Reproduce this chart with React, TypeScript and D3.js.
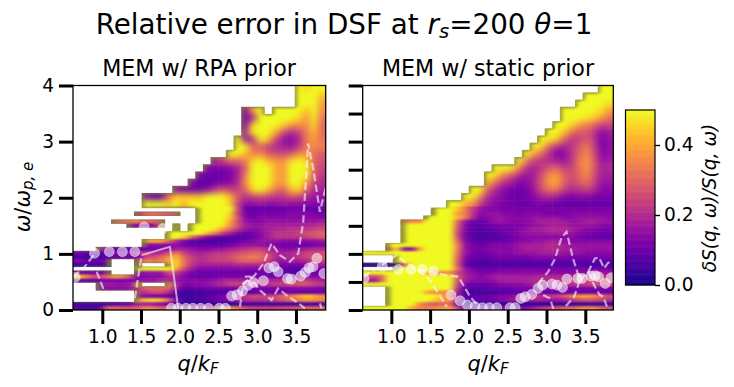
// App.tsx > relative error heatmaps (two panels + colorbar)
import React, {useEffect, useRef} from 'react';
import * as d3 from 'd3';

const _ = NaN;
const colCt = 33;
// rows run top to bottom, omega edges of each row
const omegaEdges = [
    4, 3.872, 3.744, 3.616, 3.488, 3.36, 3.232, 3.104, 2.976, 2.848, 2.72, 2.592, 2.464, 2.336, 2.208, 2.08, 1.952,
    1.82, 1.75, 1.68, 1.61, 1.54, 1.47, 1.4, 1.33, 1.26, 1.19, 1.12, 1.05, 0.98, 0.91, 0.84, 0.77, 0.7, 0.63, 0.56, 0.49, 0.42, 0.35, 0.28, 0.21, 0.14, 0.07, 0,
];
// relative error in percent, rows are right aligned (missing cells on the left are empty)
const rpaErr = [
    [50,46,50,50],
    [50,50,50,42],
    [50,50,50,38],
    [15,40,50,_,50,50,50,50,42,50,36],
    [12,18,50,50,50,50,50,46,38,48,32],
    [14,45,50,50,50,45,38,36,36,46,30],
    [20,50,50,50,40,26,20,24,34,42,30],
    [50,16,20,50,42,25,16,14,20,34,38,32],
    [50,50,30,28,24,20,18,16,22,34,36,34],
    [50,50,42,34,36,28,26,26,28,36,36,32,28],
    [20,25,30,30,34,46,50,42,38,36,46,50,46,30,26],
    [15,12,12,14,18,28,50,50,50,40,38,50,50,50,30,24],
    [14,10,10,10,12,18,34,50,50,50,40,38,50,50,48,28,22],
    [16,9,9,10,12,14,20,36,50,50,50,40,38,50,50,40,24,20],
    [14,10,10,10,14,22,28,24,24,30,46,50,42,32,30,42,46,30,20,18],
    [15,8,10,30,45,45,45,42,50,50,50,42,28,22,24,26,24,22,22,26,26,20,16,16],
    [50,50,50,45,50,40,50,50,50,50,50,46,24,14,14,16,14,14,16,14,14,14,12,14],
    [50,50,50,50,50,26,10,9,10,10,10,11,12,12,10,10,10],
    [20,30,32,30,28,26,_,_,50,50,50,50,46,24,12,10,12,12,12,12,14,14,14,12,12],
    [50,50,50,50,44,28,14,12,14,14,14,14,14,14,14,14,14],
    [30,30,35,35,30,30,28,_,_,_,_,50,50,50,50,40,26,16,14,14,16,16,16,16,16,16,16,18],
    [15,12,12,14,30,_,50,_,50,50,50,50,48,38,26,18,16,16,18,18,18,18,18,20,20,22],
    [50,_,50,50,50,48,38,30,22,16,14,16,18,20,20,22,22,22,24,26],
    [50,50,50,50,50,42,34,24,18,12,10,12,14,18,22,22,22,24,26,28,30],
    [50,50,44,30,20,14,10,8,8,8,8,10,14,18,22,22,22,22,24,26,28],
    [40,40,40,30,20,12,8,7,6,6,7,8,10,12,14,16,16,16,14,14,14,14,15,16],
    [12,14,14,14,15,12,10,10,10,10,10,12,14,16,16,16,14,12,10,10,10,10,12,12],
    [20,12,8,7,8,10,10,12,14,14,18,18,16,14,14,16,16,18,20,22,24,24,20,16,14,14,16,18,20,20],
    [12,10,8,8,10,14,14,14,20,25,18,20,26,34,24,20,18,20,22,22,24,26,28,30,30,24,20,18,20,22,24,26,26],
    [6,5,5,6,8,10,10,10,12,24,26,30,36,42,30,24,20,22,24,24,26,30,32,34,32,26,20,18,20,22,24,28,28],
    [14,12,10,12,10,_,_,_,24,36,32,34,40,46,32,24,20,22,24,24,24,28,30,30,28,24,18,16,18,18,20,24,24],
    [5,5,6,6,6,_,_,_,30,_,_,_,40,46,32,22,18,18,18,18,18,20,20,20,20,18,14,12,12,12,14,16,18],
    [50,50,50,50,50,40,26,18,14,14,14,14,14,14,14,14,14,12,10,9,8,8,10,12,12],
    [14,10,10,10,14,_,_,_,12,16,16,16,26,24,16,12,10,10,10,10,10,10,10,10,10,9,8,8,8,8,8,10,10],
    [50,40,30,26,34,40,36,28,12,14,14,14,20,18,14,10,10,10,10,12,12,12,12,12,12,12,12,12,12,14,14,14,14],
    [10,10,8,12,12,12,12,12,14,16,16,20,20,16,14,14,14,14,16,18,20,20,18,18,18,18,20,20,22,24,24,20,18],
    [14,18,16,16,16,40,_,_,_,38,20,12,14,14,16,18,20,24,24,22,20,20,22,24,24,26,28,28,24,22],
    [12,14,14,14,16,22,30,30,30,30,16,8,9,10,12,12,12,12,12,12,12,12,12,12,12,14,14,14,14,12],
    [20,22,26,26,20,8,5,5,5,6,6,6,8,8,8,8,10,10,10,10,10,10,10,10,10],
    [16,14,12,12,10,6,5,5,6,8,10,12,14,18,22,26,26,24,26,32,34,40,44,40,36],
    [40,44,48,44,32,14,6,5,6,8,10,12,14,18,20,22,20,22,24,28,30,34,38,36,34],
    [5,5,5,4,6,8,8,10,18,18,16,14,10,6,4,4,4,4,4,4,4,4,5,5,5,5,5,5,5,5,5,5,5],
    [8,8,8,8,30,30,28,28,30,36,34,30,28,24,20,20,22,22,24,34,36,34,26,24,24,24,24,26,26,28,30,30,30],
];
const staticErr = [
    [50,50],
    [50,50,50,50],
    [50,50,50,50,46],
    [50,50,50,50,50,46,38],
    [50,50,50,48,44,38,32],
    [50,50,46,38,34,30,24,24],
    [50,50,44,32,28,28,22,14,18],
    [50,48,44,30,22,24,28,22,12,16],
    [50,46,30,22,18,22,28,34,24,12,16],
    [50,40,30,22,12,14,22,30,36,26,14,16],
    [50,34,24,22,20,18,16,22,32,38,28,16,18],
    [50,50,50,36,22,18,22,28,30,24,24,32,38,28,18,20],
    [50,46,34,28,20,16,18,26,36,38,30,26,30,36,26,18,18],
    [42,30,22,18,14,14,18,28,38,40,30,24,28,32,24,16,16],
    [50,50,28,20,14,12,10,12,16,26,32,32,24,20,22,24,20,14,14],
    [50,50,34,20,16,14,10,10,12,14,18,20,18,14,12,14,14,12,12,12],
    [50,50,40,34,22,16,14,12,12,10,10,12,12,10,9,9,9,9,9,9,9,9],
    [50,50,50,44,34,24,16,14,14,12,12,12,12,12,12,12,12,12,12,12,12,12,12,12],
    [50,50,50,38,34,22,14,16,16,14,14,12,14,14,14,12,12,12,14,14,14,14,14,14],
    [50,50,50,50,42,34,20,12,14,16,16,14,14,14,16,16,16,16,14,14,16,16,16,16,14],
    [34,36,36,50,50,50,50,30,16,10,10,12,16,16,14,14,14,16,18,18,18,18,16,16,18,18,16,16],
    [50,50,50,50,50,50,50,28,14,8,8,10,12,12,12,12,14,16,16,18,18,18,16,16,16,16,14,14],
    [50,50,50,50,50,50,50,26,14,9,8,9,10,12,12,14,16,18,18,20,20,20,18,16,14,14,12,12],
    [50,50,50,50,50,50,50,24,12,8,6,7,8,10,12,14,16,16,16,18,18,18,16,14,12,12,10,10],
    [50,50,50,50,50,50,50,26,12,8,6,6,7,8,10,12,14,14,14,14,14,14,14,12,10,9,9,9],
    [50,50,50,50,50,50,50,30,14,10,8,9,10,10,12,14,14,16,16,18,18,16,14,14,14,14,14,14],
    [50,50,50,50,50,50,50,50,50,34,16,12,10,12,14,14,14,16,18,18,18,20,20,18,16,16,16,16,16,16],
    [30,46,14,14,40,50,50,50,50,34,16,12,12,14,14,14,14,16,18,18,18,20,20,18,18,16,16,16,16,16],
    [50,50,50,50,50,50,50,50,50,50,50,50,32,16,12,10,12,14,14,14,16,16,16,18,18,18,16,16,16,14,14,14,14],
    [50,50,50,50,50,50,50,50,30,14,10,9,10,12,12,12,12,12,14,14,14,14,14,12,12,12,12,12,12],
    [50,50,50,50,50,50,50,50,28,12,8,7,8,9,9,9,9,9,10,10,10,10,10,9,9,9,9,9,9],
    [3,3,3,3,4,30,50,50,50,50,50,50,28,10,6,6,6,6,6,6,6,6,6,6,7,7,7,7,7,6,6,6,6],
    [50,50,50,50,50,50,50,50,32,16,12,10,10,10,12,12,12,12,12,12,12,12,12,12,12,12,12,12,12],
    [50,50,50,50,50,50,50,50,40,36,36,36,24,18,14,12,12,14,14,14,14,14,14,14,14,14,14,14,14,16,16,16,16],
    [26,26,30,50,50,50,50,50,50,50,50,50,30,18,16,14,16,18,18,18,18,18,18,20,20,20,20,20,22,22,22,22,22],
    [20,14,30,50,50,50,50,50,50,50,50,50,26,18,14,14,14,16,18,18,18,18,20,20,20,20,22,24,24,24,24,24,24],
    [50,50,50,50,50,50,50,50,50,50,50,50,24,12,10,10,10,12,14,14,14,16,18,18,18,18,20,22,22,24,26,26,26],
    [50,50,50,50,50,50,50,50,50,20,10,8,8,8,10,10,10,12,12,12,12,12,12,12,12,12,12,12,12,12],
    [50,50,50,50,50,40,36,36,36,18,6,5,5,6,6,7,8,8,9,10,10,10,10,10,10,10,10,10,10,10],
    [50,50,50,50,50,50,50,40,30,14,8,8,10,10,12,14,14,16,18,20,22,22,24,28,34,38,40,36,30,26],
    [50,50,50,50,50,50,44,40,36,18,8,8,10,10,12,14,16,18,18,18,18,16,16,18,22,26,28,26,24,20],
    [50,50,50,50,36,30,28,30,32,10,4,3,3,3,3,3,3,3,3,3,3,3,4,4,4,4,4,4,4,4],
    [50,50,50,50,50,50,40,36,34,36,38,40,24,14,14,14,14,14,14,14,14,14,18,22,24,26,30,30,34,36,36,30,28],
];
// peak position, [q, omega]
const rpaPeak = [
    [0.65,0.58],[0.9,1.01],[1.09,1.04],[1.26,1.04],[1.42,1.04],[1.54,1.48],[1.78,1.45],[1.89,0.03],[1.98,0.03],[2.08,0.03],[2.17,0.03],
    [2.27,0.03],[2.37,0.03],[2.51,0.03],[2.59,0.03],[2.67,0.25],[2.74,0.27],[2.81,0.34],[2.88,0.44],[2.95,0.49],[3.08,0.52],[3.15,0.75],
    [3.22,0.77],[3.27,0.68],[3.39,0.56],[3.44,0.55],[3.56,0.6],[3.62,0.67],[3.67,0.75],[3.72,0.77],[3.77,0.92],[3.86,0.65],
];
const staticPeak = [
    [0.648,0.563],[0.884,0.782],[1.09,0.723],[1.254,0.723],[1.4,0.723],[1.542,0.693],[1.77,0.266],[1.886,0.166],[1.98,0.088],[2.08,0.059],[2.175,0.041],
    [2.265,0.041],[2.36,0.041],[2.53,0.041],[2.596,0.041],[2.67,0.207],[2.725,0.237],[2.81,0.278],[2.89,0.385],[2.95,0.444],[3.07,0.462],[3.134,0.444],
    [3.207,0.403],[3.263,0.551],[3.405,0.563],[3.456,0.563],[3.572,0.604],[3.628,0.61],[3.67,0.592],[3.757,0.474],[3.835,0.575],
];
// peak +- width, dashed
const rpaDashed = [
    [[0.626,0.593],[0.755,0.741],[0.906,1.008]],
    [[0.927,0.682],[1.02,0.356]],
    [[1.42,0.207],[1.508,0.978]],
    [[2.777,0.059],[2.82,0.474],[2.97,0.622],[3.08,0.83],[3.185,1.186],[3.293,0.978],[3.42,0.86],[3.53,1.008],[3.594,1.571],[3.658,2.965],[3.73,2.461],[3.809,1.749],[3.88,2.165]],
    [[2.84,0.593],[2.906,0.593],[3.03,0.355],[3.185,0.178],[3.27,0.385],[3.4,0.237],[3.508,0.148],[3.615,0.03]],
    [[3.809,0.118],[3.83,0.03]],
];
const rpaSolid = [[1.508,0.978],[1.873,1.126],[1.98,0.03]];
const staticDashed = [
    [[0.639,0.593],[0.876,0.8],[1.069,0.978],[1.198,0.83],[1.349,0.711],[1.499,0.682],[1.693,0.622],[1.865,0.593],[2.015,0.237],[2.123,0.059]],
    [[1.349,0.711],[1.478,0.563],[1.564,0.385],[1.714,0.059]],
    [[2.893,0.474],[3.022,0.682],[3.108,0.908],[3.194,1.293],[3.258,1.394],[3.344,0.908],[3.43,0.533],[3.538,0.682],[3.624,0.919],[3.676,0.937],[3.744,0.741],[3.787,0.83],[3.839,0.877]],
    [[2.957,0.266],[3.043,0.207],[3.095,0]],
    [[3.25,0.07],[3.357,0.237],[3.409,0.444],[3.43,0.622]],
    [[3.538,0.682],[3.624,0.415],[3.688,0.266],[3.73,0.237],[3.787,0.03]],
];
const qTicks = [1, 1.5, 2, 2.5, 3, 3.5];
const omegaTicks = [0, 1, 2, 3, 4];
const omegaTicksRight = [0, 0.5, 1, 1.5, 2, 2.5, 3, 3.5, 4];
const cbarTicks = [0, 0.2, 0.4];

const font = '"DejaVu Sans"';
const olive = '#7d7d40';
const coarseRowCt = 17;

const colorScale = d3.scaleSequential(d3.interpolatePlasma).domain([0, 50]);

const drawPanel = (svg, defs, id, err, peak, dashed, solid, xRange, qDomain, yTicks, showLabels) => {
    const xScale = d3.scaleLinear().domain(qDomain).range(xRange);
    const yScale = d3.scaleLinear().domain([0, 4]).range([310, 85.5]);
    const colWidth = (xRange[1] - xRange[0]) / colCt;
    const grid = err.map((row) => [...Array(colCt - row.length).fill(NaN), ...row]);
    const isEmpty = (r, c) => r >= 0 && r < grid.length && c >= 0 && c < colCt && Number.isNaN(grid[r][c]);

    defs.append('clipPath').attr('id', `clip-${id}`).append('rect')
        .attr('x', xRange[0]).attr('y', 85.5).attr('width', xRange[1] - xRange[0]).attr('height', 224.5);
    // crisp stair edge: only cells that hold data
    const cellClip = defs.append('clipPath').attr('id', `cells-${id}`);

    const clip = svg.append('g').attr('clip-path', `url(#clip-${id})`);
    const heat = clip.append('g').attr('clip-path', `url(#cells-${id})`);
    const coarse = heat.append('g').attr('filter', 'url(#blur-coarse)');
    const fine = heat.append('g').attr('filter', 'url(#blur-fine)');
    const rim = heat.append('g').attr('filter', 'url(#blur-rim)').attr('opacity', 0.85);

    grid.forEach((row, r) => {
        const isCoarse = r < coarseRowCt;
        const top = yScale(omegaEdges[r]);
        const bottom = yScale(omegaEdges[r + 1]);
        const h = bottom - top;
        row.forEach((v, c) => {
            if (Number.isNaN(v)) return;
            const left = xRange[0] + c * colWidth;
            const target = isCoarse ? coarse : fine;
            cellClip.append('rect').attr('x', left - 0.3).attr('y', top - 0.3).attr('width', colWidth + 0.6).attr('height', h + 0.6);
            target.append('rect')
                .attr('x', left).attr('y', top)
                .attr('width', colWidth + 0.3).attr('height', h + 0.3)
                .attr('fill', colorScale(v));
            // dark rim where the data runs out
            const rimH = isCoarse ? 1.2 : 0.2;
            const rimW = isCoarse ? 2 : 5;
            const addRim = (x, y, w, hh) => rim.append('rect').attr('x', x).attr('y', y).attr('width', w).attr('height', hh).attr('fill', olive);
            if (isEmpty(r - 1, c)) addRim(left, top - 2.5, colWidth, 2.5 + rimH);
            if (isEmpty(r + 1, c)) addRim(left, bottom - rimH, colWidth, 2.5 + rimH);
            if (isEmpty(r, c - 1)) addRim(left - 4, top, 4 + rimW, h);
            if (isEmpty(r, c + 1)) addRim(left + colWidth - rimW, top, 4 + rimW, h);
        })
    })

    // overlay lines and peak markers
    const line = d3.line().x((d) => xScale(d[0])).y((d) => yScale(d[1]));
    dashed.forEach((seg) => {
        clip.append('path').attr('d', line(seg))
            .attr('fill', 'none').attr('stroke', '#fff').attr('stroke-opacity', 0.6)
            .attr('stroke-width', 2.2).attr('stroke-dasharray', '7.5,3.5');
    })
    if (solid) {
        clip.append('path').attr('d', line(solid))
            .attr('fill', 'none').attr('stroke', '#fff').attr('stroke-opacity', 0.6).attr('stroke-width', 2);
    }
    clip.selectAll('circle').data(peak).enter().append('circle')
        .attr('cx', (d) => xScale(d[0])).attr('cy', (d) => yScale(d[1])).attr('r', 5)
        .attr('fill', '#fff').attr('fill-opacity', 0.55)
        .attr('stroke', '#fff').attr('stroke-opacity', 0.4).attr('stroke-width', 1);

    // frame + axes
    svg.append('rect').attr('x', xRange[0]).attr('y', 85.5)
        .attr('width', xRange[1] - xRange[0]).attr('height', 224.5)
        .attr('fill', 'none').attr('stroke', '#000').attr('stroke-width', 1.3);
    const xAxis = svg.append('g').attr('transform', 'translate(0,310)')
        .call(d3.axisBottom(xScale).tickValues(qTicks).tickFormat(d3.format('.1f')).tickSize(14).tickPadding(6));
    const yAxis = svg.append('g').attr('transform', `translate(${xRange[0]},0)`)
        .call(d3.axisLeft(yScale).tickValues(yTicks).tickFormat(showLabels ? d3.format('d') : () => '').tickSize(14).tickPadding(5));
    [xAxis, yAxis].forEach((axis) => {
        axis.select('.domain').remove();
        axis.selectAll('line').attr('stroke', '#000').attr('stroke-width', 3);
        axis.selectAll('text').attr('font-family', font).attr('font-size', 18.6).attr('fill', '#000');
    })
    return xScale;
}

const drawColorbar = (svg) => {
    const x0 = 625.5, x1 = 655;
    const yScale = d3.scaleLinear().domain([0, 0.5]).range([285, 110]);
    const steps = d3.range(0, 0.5, 0.0025);
    svg.append('g').selectAll('rect').data(steps).enter().append('rect')
        .attr('x', x0).attr('width', x1 - x0)
        .attr('y', (d) => yScale(d + 0.0025) - 0.3)
        .attr('height', (d) => yScale(d) - yScale(d + 0.0025) + 0.6)
        .attr('fill', (d) => colorScale((d + 0.0025) * 100));
    svg.append('rect').attr('x', x0).attr('y', 110).attr('width', x1 - x0).attr('height', 175)
        .attr('fill', 'none').attr('stroke', '#000').attr('stroke-width', 1.2);
    const axis = svg.append('g').attr('transform', `translate(${x1},0)`)
        .call(d3.axisRight(yScale).tickValues(cbarTicks).tickFormat(d3.format('.1f')).tickSize(5).tickPadding(4));
    axis.select('.domain').remove();
    axis.selectAll('line').attr('stroke', '#000').attr('stroke-width', 1.4);
    axis.selectAll('text').attr('font-family', font).attr('font-size', 18.6).attr('fill', '#000');
}

const addText = (svg, x, y, size, rotate) => {
    const t = svg.append('text').attr('x', x).attr('y', y)
        .attr('text-anchor', 'middle').attr('font-family', font).attr('font-size', size).attr('fill', '#000');
    if (rotate) t.attr('transform', `rotate(-90 ${x} ${y})`);
    return t;
}
const addSpan = (t, str, opts = {}) => {
    const s = t.append('tspan').text(str);
    if (opts.italic) s.attr('font-style', 'italic');
    if (opts.sub) s.attr('font-size', opts.sub).attr('dy', opts.dy);
    if (opts.back) s.attr('dy', opts.back);
    return s;
}

export default function App(){
    const ref = useRef(null);

    useEffect(() => {
        const svg = d3.select(ref.current);
        svg.selectAll('*').remove();

        const defs = svg.append('defs');
        [['blur-fine', '3.4 0.9', 4], ['blur-coarse', '3.6 3', 4], ['blur-rim', '2 1', 1]].forEach(([id, dev, slope]) => {
            const f = defs.append('filter').attr('id', id).attr('filterUnits', 'userSpaceOnUse')
                .attr('x', 0).attr('y', 0).attr('width', 734).attr('height', 387)
                .attr('color-interpolation-filters', 'sRGB');
            f.append('feGaussianBlur').attr('stdDeviation', dev);
            f.append('feComponentTransfer').append('feFuncA').attr('type', 'linear').attr('slope', slope);
        })

        drawPanel(svg, defs, 'rpa', rpaErr, rpaPeak, rpaDashed, rpaSolid, [73, 325.7], [0.622, 3.884], omegaTicks, true);
        drawPanel(svg, defs, 'static', staticErr, staticPeak, staticDashed, null, [362.7, 613.3], [0.631, 3.861], omegaTicksRight, false);
        drawColorbar(svg);

        // titles
        const title = addText(svg, 344, 34, 27.8);
        addSpan(title, 'Relative error in DSF at ');
        addSpan(title, 'r', {italic: true});
        addSpan(title, 's', {italic: true, sub: 19.5, dy: 4});
        addSpan(title, '=200 ', {back: -4});
        addSpan(title, 'θ', {italic: true});
        addSpan(title, '=1');
        addText(svg, 199, 76, 22.2).text('MEM w/ RPA prior');
        addText(svg, 488, 76, 22.2).text('MEM w/ static prior');

        // axis labels
        [198, 488].forEach((x) => {
            const t = addText(svg, x, 371, 21);
            addSpan(t, 'q', {italic: true});
            addSpan(t, '/');
            addSpan(t, 'k', {italic: true});
            addSpan(t, 'F', {italic: true, sub: 15, dy: 3});
        })
        const yLabel = addText(svg, 30, 197, 21, true);
        addSpan(yLabel, 'ω', {italic: true});
        addSpan(yLabel, '/');
        addSpan(yLabel, 'ω', {italic: true});
        addSpan(yLabel, 'p, e', {italic: true, sub: 15, dy: 3});
        addText(svg, 716, 198, 18.6, true).attr('font-style', 'italic').text('δS(q, ω)/S(q, ω)');
    }, [])

    return(
        <svg ref={ref} width={734} height={387} style={{position: 'absolute', left: 0, top: 0, background: '#fff'}} />
    )
}
